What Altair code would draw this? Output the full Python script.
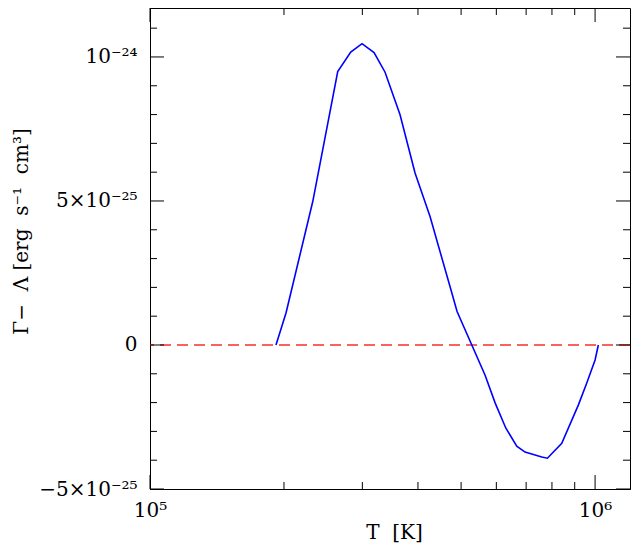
import altair as alt
import pandas as pd

# Temperature (K) and net heating Gamma - Lambda (units of 1e-25 erg s^-1 cm^3)
T_vals = [1.919e5, 2.021e5, 2.321e5, 2.641e5, 2.825e5, 2.995e5, 3.187e5, 3.374e5,
          3.646e5, 3.940e5, 4.258e5, 4.723e5, 4.897e5, 5.658e5, 5.962e5, 6.300e5,
          6.668e5, 6.961e5, 7.591e5, 7.814e5, 8.417e5, 9.174e5, 9.579e5, 1.0e6, 1.017e6]
net_vals = [0.0, 1.11, 4.98, 9.49, 10.17, 10.46, 10.15, 9.47,
            7.99, 5.97, 4.46, 2.02, 1.16, -1.04, -2.01, -2.88,
            -3.51, -3.72, -3.89, -3.93, -3.41, -2.08, -1.32, -0.52, 0.0]

zero_level = [0.0]
y_major = [-5, 0, 5, 10]
y_minor = [-4, -3, -2, -1, 1, 2, 3, 4, 6, 7, 8, 9, 11]
x_major = [1e5, 1e6]
x_minor = [2e5, 3e5, 4e5, 5e5, 6e5, 7e5, 8e5, 9e5]
y_label_text = {"-5": "−5×10⁻²⁵", "0": "0", "5": "5×10⁻²⁵", "10": "10⁻²⁴"}
x_label_text = ["10⁵", "10⁶"]
x_title = "T\u00a0\u00a0[K]"
y_title = "Γ−\u00a0\u00a0Λ\u00a0[erg\u00a0\u00a0s⁻¹\u00a0\u00a0cm³]"

W, H = 480, 481
FONT = "DejaVu Serif"
FS = 20

curve = pd.DataFrame({"T": T_vals, "v": net_vals})
zero_df = pd.DataFrame({"v": zero_level})
ymaj_df = pd.DataFrame({"v": y_major})
ymin_df = pd.DataFrame({"v": y_minor})
xmaj_df = pd.DataFrame({"T": x_major})
xmin_df = pd.DataFrame({"T": x_minor})

x_scale = alt.Scale(type="log", domain=[1e5, 1.198e6], nice=False)
y_scale = alt.Scale(domain=[-5, 11.7], nice=False, zero=False)

y_expr = " : ".join(
    f"datum.value == {k} ? '{t}'" for k, t in y_label_text.items()
) + " : ''"
x_expr = f"datum.value < 5e5 ? '{x_label_text[0]}' : '{x_label_text[1]}'"

x_axis = alt.Axis(values=x_major, labelExpr=x_expr, ticks=False, domain=True,
                  domainColor="black", domainWidth=1,
                  grid=False, labelFont=FONT, labelFontSize=FS, labelPadding=11,
                  labelFlush=False, labelOverlap=False, title=x_title,
                  titleFont=FONT, titleFontSize=FS, titleFontWeight="normal",
                  titleBaseline="alphabetic", titleY=49, titleX=W / 2 + 4,
                  labelColor="black", titleColor="black")
y_axis = alt.Axis(values=y_major, labelExpr=y_expr, ticks=False, domain=True,
                  domainColor="black", domainWidth=1,
                  grid=False, labelFont=FONT, labelFontSize=FS, labelPadding=13,
                  labelOverlap=False, labelFlush=False,
                  title=y_title, titleFont=FONT, titleFontSize=FS,
                  titleFontWeight="normal", titleBaseline="alphabetic",
                  titleX=-123, titleY=223,
                  labelColor="black", titleColor="black")


def X(field="T"):
    return alt.X(f"{field}:Q", scale=x_scale, axis=x_axis)


def Y(field="v"):
    return alt.Y(f"{field}:Q", scale=y_scale, axis=y_axis)


line = alt.Chart(curve).mark_line(color="#0000ff", strokeWidth=1.6).encode(
    x=X(), y=Y(), order="T:Q")
zero = alt.Chart(zero_df).mark_rule(color="#f53030", strokeWidth=1.6,
                                    strokeDash=[11, 6]).encode(y=Y())

tick_style = dict(color="black", strokeWidth=1)
MAJ, MIN = 14, 7
layers = [zero, line]
for df, ln in ((ymaj_df, MAJ), (ymin_df, MIN)):
    layers.append(alt.Chart(df).mark_rule(**tick_style).encode(
        y=Y(), x=alt.value(0), x2=alt.value(ln)))
    layers.append(alt.Chart(df).mark_rule(**tick_style).encode(
        y=Y(), x=alt.value(W), x2=alt.value(W - ln)))
for df, ln in ((xmaj_df, MAJ), (xmin_df, MIN)):
    layers.append(alt.Chart(df).mark_rule(**tick_style).encode(
        x=X(), y=alt.value(H), y2=alt.value(H - ln)))
    layers.append(alt.Chart(df).mark_rule(**tick_style).encode(
        x=X(), y=alt.value(0), y2=alt.value(ln)))

chart = alt.layer(*layers).properties(
    width=W, height=H,
    background="white",
    autosize=alt.AutoSizeParams(type="none"),
    padding={"left": 142, "top": 0, "right": 1, "bottom": 54},
).configure_view(stroke="black", strokeWidth=1)

chart.save("out.html", embed_options={"renderer": "svg", "actions": False})
